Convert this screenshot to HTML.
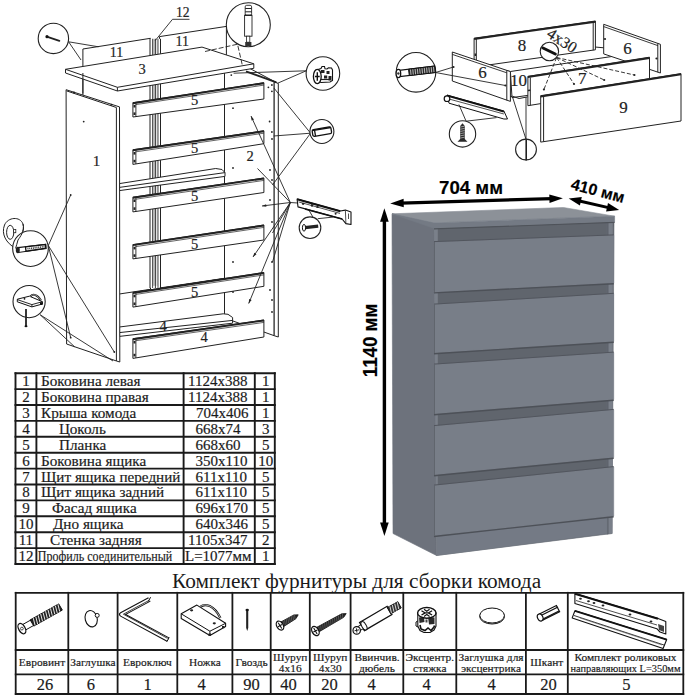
<!DOCTYPE html><html><head><meta charset="utf-8"><style>html,body{margin:0;padding:0;background:#fff;width:689px;height:700px;overflow:hidden}svg{display:block}</style></head><body><svg width="689" height="700" viewBox="0 0 689 700"><style>text{stroke:#1a1a1a;stroke-width:0.18px;paint-order:stroke}</style><rect width="689" height="700" fill="#fff"/><g><polygon points="392,213.8 434,223 436.5,555.5 393,533.5" fill="#6d727c" stroke="#6d727c" stroke-width="0.6" stroke-linejoin="round"/><polygon points="434,228 614,221.8 612,533.5 436.5,555.5" fill="#60656d" stroke="#60656d" stroke-width="0.6" stroke-linejoin="round"/><polygon points="607,222 612.5,221.8 612.2,533.5 607,533.8" fill="#7a808a" stroke="#7a808a" stroke-width="0.6" stroke-linejoin="round"/><polygon points="606.5,222 608.2,222 608.2,534 606.5,534" fill="#60656e" stroke="#60656e" stroke-width="0.6" stroke-linejoin="round"/><polygon points="434,228 437.5,228 437.5,555 436.5,555.5" fill="#7a808a" stroke="#7a808a" stroke-width="0.6" stroke-linejoin="round"/><polygon points="392,213.8 563.5,207.5 614.6,216.2 434,223" fill="#8c9198" stroke="#8c9198" stroke-width="0.6" stroke-linejoin="round"/><polygon points="392,213.8 434,223 614.6,216.2 614.6,221.8 434,228.3" fill="#747a84" stroke="#747a84" stroke-width="0.6" stroke-linejoin="round"/><line x1="434" y1="228.9" x2="614.6" y2="222.4" stroke="#4f535a" stroke-width="1.2"/><polygon points="437.5,536 607,517 607,533.6 437.5,555.3" fill="#747a85" stroke="#747a85" stroke-width="0.6" stroke-linejoin="round"/><polygon points="434,242 613.7,235.3 613.7,283 434,292.2" fill="#787e88" stroke="#787e88" stroke-width="0.6" stroke-linejoin="round"/><line x1="434" y1="292.9" x2="613.7" y2="283.7" stroke="#4d5158" stroke-width="1.4"/><line x1="434" y1="241.6" x2="613.7" y2="234.9" stroke="#52565e" stroke-width="1"/><line x1="434.4" y1="242" x2="434.4" y2="292.2" stroke="#5a5f67" stroke-width="0.9"/><polygon points="434,304.5 613.7,293.7 613.7,341.5 434,353" fill="#787e88" stroke="#787e88" stroke-width="0.6" stroke-linejoin="round"/><line x1="434" y1="353.7" x2="613.7" y2="342.2" stroke="#4d5158" stroke-width="1.4"/><line x1="434" y1="304.1" x2="613.7" y2="293.3" stroke="#52565e" stroke-width="1"/><line x1="434.4" y1="304.5" x2="434.4" y2="353" stroke="#5a5f67" stroke-width="0.9"/><polygon points="434,364.5 613.7,352.5 613.7,399.5 434,414" fill="#787e88" stroke="#787e88" stroke-width="0.6" stroke-linejoin="round"/><line x1="434" y1="414.7" x2="613.7" y2="400.2" stroke="#4d5158" stroke-width="1.4"/><line x1="434" y1="364.1" x2="613.7" y2="352.1" stroke="#52565e" stroke-width="1"/><line x1="434.4" y1="364.5" x2="434.4" y2="414" stroke="#5a5f67" stroke-width="0.9"/><polygon points="434,426 613.7,409.8 613.7,457.5 434,475" fill="#787e88" stroke="#787e88" stroke-width="0.6" stroke-linejoin="round"/><line x1="434" y1="475.7" x2="613.7" y2="458.2" stroke="#4d5158" stroke-width="1.4"/><line x1="434" y1="425.6" x2="613.7" y2="409.40000000000003" stroke="#52565e" stroke-width="1"/><line x1="434.4" y1="426" x2="434.4" y2="475" stroke="#5a5f67" stroke-width="0.9"/><polygon points="434,485.5 613.7,467 613.7,516 434,535.8" fill="#787e88" stroke="#787e88" stroke-width="0.6" stroke-linejoin="round"/><line x1="434" y1="536.5" x2="613.7" y2="516.7" stroke="#4d5158" stroke-width="1.4"/><line x1="434" y1="485.1" x2="613.7" y2="466.6" stroke="#52565e" stroke-width="1"/><line x1="434.4" y1="485.5" x2="434.4" y2="535.8" stroke="#5a5f67" stroke-width="0.9"/></g><line x1="401.0" y1="203.1" x2="552.1" y2="198.6" stroke="#000" stroke-width="3.2"/><polygon points="390.2,203.4 403.8,207.3 403.6,198.7" fill="#000"/><polygon points="562.9,198.3 549.5,203.0 549.3,194.4" fill="#000"/><line x1="578.4" y1="200.7" x2="609.5" y2="207.9" stroke="#000" stroke-width="3.0"/><polygon points="568.7,198.5 579.9,205.5 581.8,197.1" fill="#000"/><polygon points="619.2,210.1 606.1,211.5 608.0,203.1" fill="#000"/><line x1="384.4" y1="219.1" x2="384.4" y2="525.2" stroke="#000" stroke-width="3.4"/><polygon points="384.4,208.3 380.1,221.8 388.7,221.8" fill="#000"/><polygon points="384.4,536.0 380.1,522.5 388.7,522.5" fill="#000"/><text x="439" y="194.3" font-family='"Liberation Sans", sans-serif' font-weight="bold" font-size="19" fill="#000" textLength="64" lengthAdjust="spacingAndGlyphs">704 мм</text><text transform="translate(570,189) rotate(15)" font-family='"Liberation Sans", sans-serif' font-weight="bold" font-size="16" fill="#000">410 мм</text><text transform="translate(377.4,377.2) rotate(-90)" font-family='"Liberation Sans", sans-serif' font-weight="bold" font-size="20" fill="#000" textLength="73.5" lengthAdjust="spacingAndGlyphs">1140 мм</text><polygon points="82.9,49.0 150.5,38.3 150.5,289.3 82.9,299.5" stroke="#222" stroke-width="1" fill="#fff" stroke-linejoin="round"/><polygon points="159.5,36.6 226.4,26.4 226.4,278.0 159.5,288.0" stroke="#222" stroke-width="1" fill="#fff" stroke-linejoin="round"/><rect x="150" y="38.8" width="10.5" height="249" fill="#fff"/><rect x="152.6" y="38.8" width="2.8" height="247" fill="#c4c4c4"/><rect x="155.4" y="38.8" width="2.6" height="247" fill="#e2e2e2"/><line x1="150.0" y1="38.8" x2="150.0" y2="288.0" stroke="#222" stroke-width="1.0" /><line x1="152.6" y1="38.8" x2="152.6" y2="288.0" stroke="#222" stroke-width="0.8" /><line x1="155.4" y1="38.8" x2="155.4" y2="288.0" stroke="#222" stroke-width="0.9" /><line x1="158.0" y1="38.8" x2="158.0" y2="288.0" stroke="#222" stroke-width="0.8" /><line x1="160.5" y1="38.8" x2="160.5" y2="288.0" stroke="#222" stroke-width="1.0" /><polygon points="224.5,55.0 276.5,82.6 274.2,82.6 274.2,335.7 224.5,318.0" stroke="#222" stroke-width="1" fill="#fff" stroke-linejoin="round"/><polygon points="274.2,81.8 278.3,83.5 278.3,337.0 274.2,335.7" stroke="#222" stroke-width="1" fill="#fff" stroke-linejoin="round"/><line x1="246.0" y1="71.4" x2="276.4" y2="82.4" stroke="#222" stroke-width="1.8" /><polygon points="119.4,183.6 215.7,168.5 222.0,169.5 225.0,172.6 225.0,176.4 119.4,190.6" stroke="#222" stroke-width="1" fill="#fff" stroke-linejoin="round"/><line x1="119.4" y1="187.4" x2="225.0" y2="172.6" stroke="#222" stroke-width="1" /><polygon points="119.4,327.0 223.2,313.8 228.0,314.3 232.6,317.5 232.6,323.2 119.4,336.4" stroke="#222" stroke-width="1" fill="#fff" stroke-linejoin="round"/><line x1="119.4" y1="332.6" x2="232.6" y2="320.4" stroke="#222" stroke-width="1" /><polygon points="132.9,102.7 263.9,82.7 263.9,99.0 132.9,117.0" stroke="#222" stroke-width="1" fill="#fff" stroke-linejoin="round"/><line x1="132.9" y1="103.2" x2="263.9" y2="83.2" stroke="#222" stroke-width="1.9" /><line x1="135.9" y1="104.6" x2="263.9" y2="85.1" stroke="#222" stroke-width="0.7" /><line x1="135.9" y1="102.8" x2="135.9" y2="116.5" stroke="#222" stroke-width="0.9" /><rect x="133.5" y="104.9" width="2" height="2.6" fill="#222"/><rect x="133.5" y="112.4" width="2" height="2.6" fill="#222"/><polygon points="132.9,149.8 263.9,130.8 263.9,143.7 132.9,164.4" stroke="#222" stroke-width="1" fill="#fff" stroke-linejoin="round"/><line x1="132.9" y1="150.3" x2="263.9" y2="131.3" stroke="#222" stroke-width="1.9" /><line x1="135.9" y1="151.8" x2="263.9" y2="133.2" stroke="#222" stroke-width="0.7" /><line x1="135.9" y1="150.0" x2="135.9" y2="164.0" stroke="#222" stroke-width="0.9" /><rect x="133.5" y="152.0" width="2" height="2.6" fill="#222"/><rect x="133.5" y="159.8" width="2" height="2.6" fill="#222"/><polygon points="132.9,197.2 263.9,178.0 263.9,192.5 132.9,211.9" stroke="#222" stroke-width="1" fill="#fff" stroke-linejoin="round"/><line x1="132.9" y1="197.7" x2="263.9" y2="178.5" stroke="#222" stroke-width="1.9" /><line x1="135.9" y1="199.2" x2="263.9" y2="180.4" stroke="#222" stroke-width="0.7" /><line x1="135.9" y1="197.4" x2="135.9" y2="211.5" stroke="#222" stroke-width="0.9" /><rect x="133.5" y="199.4" width="2" height="2.6" fill="#222"/><rect x="133.5" y="207.3" width="2" height="2.6" fill="#222"/><polygon points="132.9,244.6 263.9,225.0 263.9,240.0 132.9,258.9" stroke="#222" stroke-width="1" fill="#fff" stroke-linejoin="round"/><line x1="132.9" y1="245.1" x2="263.9" y2="225.5" stroke="#222" stroke-width="1.9" /><line x1="135.9" y1="246.6" x2="263.9" y2="227.4" stroke="#222" stroke-width="0.7" /><line x1="135.9" y1="244.8" x2="135.9" y2="258.5" stroke="#222" stroke-width="0.9" /><rect x="133.5" y="246.8" width="2" height="2.6" fill="#222"/><rect x="133.5" y="254.3" width="2" height="2.6" fill="#222"/><polygon points="132.9,292.5 263.9,272.5 263.9,286.3 132.9,307.1" stroke="#222" stroke-width="1" fill="#fff" stroke-linejoin="round"/><line x1="132.9" y1="293.0" x2="263.9" y2="273.0" stroke="#222" stroke-width="1.9" /><line x1="135.9" y1="294.4" x2="263.9" y2="274.9" stroke="#222" stroke-width="0.7" /><line x1="135.9" y1="292.6" x2="135.9" y2="306.6" stroke="#222" stroke-width="0.9" /><rect x="133.5" y="294.7" width="2" height="2.6" fill="#222"/><rect x="133.5" y="302.5" width="2" height="2.6" fill="#222"/><polygon points="132.9,338.7 263.9,320.0 263.9,337.0 132.9,358.4" stroke="#222" stroke-width="1" fill="#fff" stroke-linejoin="round"/><line x1="132.9" y1="339.2" x2="263.9" y2="320.5" stroke="#222" stroke-width="1.9" /><line x1="135.9" y1="340.7" x2="263.9" y2="322.4" stroke="#222" stroke-width="0.7" /><line x1="135.9" y1="338.9" x2="135.9" y2="358.0" stroke="#222" stroke-width="0.9" /><rect x="133.5" y="340.9" width="2" height="2.6" fill="#222"/><rect x="133.5" y="353.8" width="2" height="2.6" fill="#222"/><polygon points="65.5,69.3 202.0,47.1 253.8,63.8 253.8,68.3 117.4,91.0 65.5,73.0" stroke="#222" stroke-width="1" fill="#fff" stroke-linejoin="round"/><polyline points="65.5,69.3 117.4,87.3 253.8,63.8" stroke="#222" stroke-width="1" fill="none"/><line x1="117.4" y1="87.3" x2="117.4" y2="91.0" stroke="#222" stroke-width="1" /><polygon points="66.1,89.7 119.5,106.9 119.8,362.0 116.5,361.0 66.6,344.0" stroke="#222" stroke-width="1" fill="#fff" stroke-linejoin="round"/><line x1="66.6" y1="90.9" x2="116.4" y2="107.5" stroke="#222" stroke-width="1.0" /><line x1="116.4" y1="107.5" x2="116.4" y2="361.0" stroke="#222" stroke-width="1.0" /><circle cx="74" cy="92.6" r="1" fill="#222"/><circle cx="111.5" cy="104.8" r="1" fill="#222"/><line x1="82.9" y1="73.0" x2="82.9" y2="93.5" stroke="#222" stroke-width="1" /><line x1="68.6" y1="41.8" x2="98.5" y2="46.8" stroke="#222" stroke-width="0.9" /><line x1="68.6" y1="41.8" x2="81.0" y2="60.0" stroke="#222" stroke-width="0.9" /><line x1="172.5" y1="19.3" x2="189.5" y2="19.3" stroke="#222" stroke-width="0.9" /><line x1="172.5" y1="19.3" x2="155.2" y2="40.6" stroke="#222" stroke-width="0.9" /><line x1="306.2" y1="70.8" x2="233.6" y2="73.2" stroke="#222" stroke-width="0.9" /><line x1="306.2" y1="70.8" x2="277.7" y2="83.2" stroke="#222" stroke-width="0.9" /><line x1="310.6" y1="133.2" x2="273.9" y2="88.0" stroke="#222" stroke-width="0.9" /><line x1="310.6" y1="133.2" x2="273.6" y2="136.0" stroke="#222" stroke-width="0.9" /><line x1="310.6" y1="133.2" x2="272.5" y2="185.0" stroke="#222" stroke-width="0.9" /><line x1="290.3" y1="202.5" x2="251.0" y2="116.0" stroke="#222" stroke-width="0.9" /><line x1="290.3" y1="202.5" x2="257.5" y2="168.5" stroke="#222" stroke-width="0.9" /><line x1="290.3" y1="202.5" x2="253.0" y2="257.0" stroke="#222" stroke-width="0.9" /><line x1="290.3" y1="202.5" x2="248.7" y2="303.5" stroke="#222" stroke-width="0.9" /><line x1="290.3" y1="202.5" x2="272.5" y2="233.0" stroke="#222" stroke-width="0.9" /><line x1="290.3" y1="202.5" x2="272.5" y2="262.0" stroke="#222" stroke-width="0.9" /><line x1="290.3" y1="202.5" x2="297.5" y2="203.0" stroke="#222" stroke-width="0.9" /><line x1="290.3" y1="202.5" x2="262.0" y2="206.0" stroke="#222" stroke-width="0.9" /><line x1="313.0" y1="217.2" x2="307.9" y2="208.4" stroke="#222" stroke-width="0.9" /><line x1="317.7" y1="218.7" x2="332.9" y2="217.1" stroke="#222" stroke-width="0.9" /><line x1="48.3" y1="245.5" x2="70.7" y2="195.0" stroke="#222" stroke-width="0.9" /><line x1="48.3" y1="245.5" x2="70.7" y2="337.7" stroke="#222" stroke-width="0.9" /><line x1="48.3" y1="245.5" x2="114.3" y2="352.0" stroke="#222" stroke-width="0.9" /><line x1="40.2" y1="314.8" x2="74.5" y2="346.7" stroke="#222" stroke-width="0.9" /><line x1="40.2" y1="314.8" x2="113.0" y2="361.0" stroke="#222" stroke-width="0.9" /><polyline points="205,51.5 237.5,44.2 242.4,65.5" stroke="#222" stroke-width="0.9" fill="none" stroke-dasharray="5,2"/><polygon points="251.0,116.0 254.0,119.4 251.6,120.5" fill="#222"/><polygon points="253.0,257.0 254.3,252.7 256.5,254.2" fill="#222"/><polygon points="248.7,303.5 249.1,299.0 251.6,300.0" fill="#222"/><polygon points="262.0,206.0 266.1,204.2 266.4,206.8" fill="#222"/><circle cx="233" cy="108.2" r="0.9" fill="#222"/><circle cx="271.9" cy="91.3" r="0.9" fill="#222"/><circle cx="269.6" cy="121.5" r="0.9" fill="#222"/><circle cx="271.9" cy="132" r="0.9" fill="#222"/><circle cx="272" cy="139" r="0.9" fill="#222"/><circle cx="233" cy="168" r="0.9" fill="#222"/><circle cx="233" cy="230" r="0.9" fill="#222"/><circle cx="233" cy="262" r="0.9" fill="#222"/><circle cx="233" cy="292" r="0.9" fill="#222"/><circle cx="270" cy="170" r="0.9" fill="#222"/><circle cx="272" cy="180" r="0.9" fill="#222"/><circle cx="270" cy="200" r="0.9" fill="#222"/><circle cx="272" cy="222" r="0.9" fill="#222"/><circle cx="272" cy="262" r="0.9" fill="#222"/><circle cx="270" cy="290" r="0.9" fill="#222"/><circle cx="272" cy="300" r="0.9" fill="#222"/><circle cx="272" cy="312" r="0.9" fill="#222"/><circle cx="70.7" cy="195" r="0.9" fill="#222"/><circle cx="70.7" cy="337.7" r="0.9" fill="#222"/><circle cx="114.3" cy="352" r="0.9" fill="#222"/><circle cx="83.7" cy="121.6" r="0.9" fill="#222"/><circle cx="231.3" cy="75.1" r="0.9" fill="#222"/><circle cx="268.4" cy="87.3" r="0.9" fill="#222"/><circle cx="271.9" cy="85" r="0.9" fill="#222"/><circle cx="53.4" cy="38.4" r="15.2" fill="#fff" stroke="#222" stroke-width="1.1"/><line x1="47.5" y1="36.9" x2="59.4" y2="40.8" stroke="#222" stroke-width="1.8" stroke-linecap="round"/><circle cx="47" cy="36.7" r="1.6" fill="#111"/><circle cx="248.3" cy="24.7" r="22" fill="#fff" stroke="#222" stroke-width="1.1"/><rect x="244.6" y="15.2" width="7.4" height="21" fill="#fff" stroke="#222" stroke-width="0.9"/><rect x="245.2" y="5.3" width="6.4" height="10" rx="1.5" fill="#fff" stroke="#222" stroke-width="0.9"/><line x1="245.2" y1="8.5" x2="251.6" y2="8.5" stroke="#222" stroke-width="1"/><line x1="245.2" y1="11.8" x2="251.6" y2="11.8" stroke="#222" stroke-width="1"/><line x1="244.6" y1="15.3" x2="252" y2="15.3" stroke="#222" stroke-width="1.4"/><rect x="246.4" y="36.2" width="3.4" height="6" fill="#fff" stroke="#222" stroke-width="0.8"/><rect x="245.2" y="42" width="6.2" height="4" fill="#333"/><circle cx="322.9" cy="73.5" r="16.8" fill="#fff" stroke="#222" stroke-width="1.1"/><path d="M318,69.5 L321,68.5 L322,66.5 L324.5,66.5 L325,68.8 L327,69 L328.5,67.8 L331.5,68 L332.5,70 L332.5,80.5 L330,82 L321,82.5 L318,81 Z" fill="#fff" stroke="#111" stroke-width="1.1"/><rect x="321" y="70" width="3.5" height="3" fill="#222"/><rect x="326.5" y="71" width="3" height="3" fill="#222"/><rect x="324" y="75.5" width="3.2" height="3" fill="#222"/><rect x="328.5" y="76" width="3" height="4.5" fill="#222"/><path d="M320,79.5 L330,79.5" stroke="#222" stroke-width="1.2"/><ellipse cx="317.3" cy="76.5" rx="3.9" ry="7.2" fill="#fff" stroke="#111" stroke-width="1.3"/><path d="M317.3,72.3 v8.4 M314.9,76.5 h4.8" stroke="#111" stroke-width="1.4"/><circle cx="321.9" cy="131.5" r="12" fill="#fff" stroke="#222" stroke-width="1.1"/><g transform="translate(312.5,133.2) rotate(-9.5)"><rect x="0" y="-3.4" width="19" height="6.8" rx="1.5" fill="#fff" stroke="#111" stroke-width="1.3"/><line x1="2.5" y1="-3.4" x2="2.5" y2="3.4" stroke="#111" stroke-width="1.3"/><line x1="0" y1="-2.6" x2="19" y2="-2.6" stroke="#111" stroke-width="1.4"/></g><circle cx="310" cy="227.7" r="10.8" fill="#fff" stroke="#222" stroke-width="1.1"/><line x1="305" y1="227.6" x2="318.2" y2="226.1" stroke="#222" stroke-width="3.2"/><ellipse cx="304" cy="227.8" rx="1.6" ry="3.4" fill="#fff" stroke="#111" stroke-width="1"/><path d="M297.1,199 L340.3,211 L345.4,210.1 L351,212 L351,224.5 L345.9,223.6 L342.1,219 L298,206.9 Z" fill="#fff" stroke="#111" stroke-width="1.1" stroke-linejoin="round"/><path d="M297.1,199.3 L340.3,211.3" stroke="#111" stroke-width="2.2"/><path d="M298.5,201.9 L340,213.4" stroke="#222" stroke-width="0.8"/><path d="M305,209 L342.1,219" stroke="#111" stroke-width="1.6"/><path d="M345.4,210.5 L345.9,223.6 M348.5,213.5 L348.5,219" stroke="#222" stroke-width="0.8"/><ellipse cx="303.1" cy="203.8" rx="1.3" ry="1.1" fill="#222"/><ellipse cx="312" cy="205.4" rx="1.2" ry="1.3" fill="#222"/><ellipse cx="317.5" cy="207" rx="1.3" ry="1.1" fill="#222"/><circle cx="335.6" cy="213.8" r="1" fill="#222"/><path d="M15.6,248.4 C6,243 1,234 4.5,225 C8,217 20,216 23,224 C25,231 20,237 18,240 C17,243 16.5,246 15.6,248.4 Z" fill="#fff" stroke="#222" stroke-width="1"/><circle cx="30.5" cy="248.6" r="17.85" fill="#fff" stroke="#222" stroke-width="1.1"/><path d="M23,224 C25,231 20,237 18,240 C17,243 16.5,246 15.6,248.4" fill="none" stroke="#222" stroke-width="1"/><path d="M18,247.6 L45.7,244.3 L46,248.6 L18.5,252.5 Z" fill="#fff" stroke="#111" stroke-width="1.1"/><path d="M25.5,246.8 L45.5,244.5 L45.8,248.2 L26,251.2 Z" fill="#fff" stroke="#111" stroke-width="1.3"/><path d="M27.5,248.8 L44.5,246.6" stroke="#333" stroke-width="1.6" stroke-dasharray="1,0.8"/><ellipse cx="17.8" cy="250" rx="2" ry="3.3" fill="#222"/><ellipse cx="10.2" cy="232.3" rx="3.6" ry="7" fill="#fff" stroke="#222" stroke-width="1"/><rect x="13.6" y="229.5" width="2.2" height="3.2" fill="#fff" stroke="#222" stroke-width="0.8"/><circle cx="29.1" cy="301.6" r="16.1" fill="#fff" stroke="#222" stroke-width="1.1"/><path d="M17.3,299.2 L29.4,296.2 L42.4,301.7 L42.4,304 L31.9,306.9 L17.3,301.8 Z" fill="#fff" stroke="#111" stroke-width="1"/><path d="M17.3,299.6 L31.9,304.6 L42.4,301.7 M31.9,304.6 L31.9,306.9" stroke="#111" stroke-width="0.9" fill="none"/><path d="M30.5,296.4 C33,293.5 37.5,294.5 41,300.5" fill="none" stroke="#111" stroke-width="2"/><path d="M30.5,296.4 C33,293.5 37.5,294.5 41,300.5" fill="none" stroke="#fff" stroke-width="0.6"/><rect x="40" y="302.2" width="2.6" height="2.8" fill="#111"/><circle cx="24.5" cy="298.8" r="0.9" fill="#111"/><line x1="26" y1="309" x2="26" y2="326" stroke="#222" stroke-width="1.8"/><ellipse cx="26" cy="326.3" rx="1.5" ry="1" fill="#111"/><g font-family='"Liberation Serif", serif' fill="#222"><text x="116.6" y="57.2" text-anchor="middle" font-size="14">11</text><text x="182.3" y="46.2" text-anchor="middle" font-size="14">11</text><text x="142.1" y="74.1" text-anchor="middle" font-size="14.5">3</text><text x="96.4" y="166.1" text-anchor="middle" font-size="15">1</text><text x="250" y="160.9" text-anchor="middle" font-size="14.5">2</text><text x="194.5" y="105.3" text-anchor="middle" font-size="14.5">5</text><text x="194.5" y="152.9" text-anchor="middle" font-size="14.5">5</text><text x="194.5" y="200.5" text-anchor="middle" font-size="14.5">5</text><text x="194.5" y="249.1" text-anchor="middle" font-size="14.5">5</text><text x="194.5" y="296.7" text-anchor="middle" font-size="14.5">5</text><text x="163" y="331.1" text-anchor="middle" font-size="14.5">4</text><text x="204" y="342.4" text-anchor="middle" font-size="14.5">4</text><text x="182.7" y="17.3" text-anchor="middle" font-size="13.6">12</text></g><polygon points="476.3,64.0 595.0,47.0 645.0,51.5 645.0,79.0 512.0,97.6 510.4,71.5" stroke="#222" stroke-width="1" fill="#fff" stroke-linejoin="round"/><line x1="510.4" y1="71.5" x2="645.0" y2="51.6" stroke="#222" stroke-width="1" /><polygon points="474.1,38.2 595.4,21.0 595.4,49.8 474.1,67.0" stroke="#222" stroke-width="1" fill="#fff" stroke-linejoin="round"/><rect x="474.6" y="53.5" width="1.6" height="2.5" fill="#222"/><line x1="474.1" y1="38.9" x2="595.4" y2="21.7" stroke="#222" stroke-width="2.0" /><line x1="476.3" y1="38.9" x2="476.3" y2="66.5" stroke="#222" stroke-width="1.0" /><line x1="593.2" y1="21.3" x2="593.2" y2="50.2" stroke="#222" stroke-width="1.0" /><polygon points="603.7,24.3 660.4,44.3 660.4,73.0 603.7,53.9" stroke="#222" stroke-width="1" fill="#fff" stroke-linejoin="round"/><line x1="603.7" y1="26.6" x2="657.8" y2="45.6" stroke="#222" stroke-width="0.9" /><line x1="657.8" y1="43.4" x2="657.8" y2="72.2" stroke="#222" stroke-width="1.0" /><circle cx="605" cy="39" r="1.1" fill="#222"/><circle cx="656.5" cy="58.5" r="1.1" fill="#222"/><polygon points="452.3,52.0 510.4,71.6 510.4,101.4 452.3,81.0" stroke="#222" stroke-width="1" fill="#fff" stroke-linejoin="round"/><line x1="452.3" y1="54.4" x2="506.8" y2="72.8" stroke="#222" stroke-width="0.9" /><line x1="506.8" y1="70.6" x2="506.8" y2="100.3" stroke="#222" stroke-width="1.0" /><circle cx="453.5" cy="67" r="1.1" fill="#222"/><circle cx="505.4" cy="85.5" r="1.1" fill="#222"/><polyline points="510.4,96.5 512.6,96.3 519.1,98.5 527.9,96.8" stroke="#222" stroke-width="1" fill="none"/><polygon points="527.9,76.4 649.5,57.2 649.5,86.0 527.9,105.7" stroke="#222" stroke-width="1" fill="#fff" stroke-linejoin="round"/><line x1="527.9" y1="77.1" x2="649.5" y2="57.9" stroke="#222" stroke-width="2.0" /><line x1="530.3" y1="77.5" x2="530.3" y2="105.4" stroke="#222" stroke-width="1.0" /><line x1="527.9" y1="90.5" x2="530.3" y2="90.2" stroke="#222" stroke-width="1.5" /><polygon points="540.7,95.7 681.0,73.6 681.0,121.0 540.7,142.1" stroke="#222" stroke-width="1" fill="#fff" stroke-linejoin="round"/><line x1="540.7" y1="96.4" x2="681.0" y2="74.3" stroke="#222" stroke-width="2.0" /><line x1="543.6" y1="96.8" x2="543.6" y2="141.6" stroke="#222" stroke-width="1.0" /><path d="M447,95 L503.9,111 L507.5,119 L503.9,119 L449,103.2 Z" fill="#fff" stroke="#111" stroke-width="1"/><path d="M447,95.6 L503.9,111.6" stroke="#111" stroke-width="2"/><path d="M449,99 L503.9,114" stroke="#222" stroke-width="0.8"/><circle cx="447" cy="98.7" r="2.8" fill="#fff" stroke="#111" stroke-width="1.2"/><line x1="435.6" y1="72.5" x2="453.5" y2="67.0" stroke="#222" stroke-width="0.9" /><line x1="435.6" y1="72.5" x2="505.4" y2="85.5" stroke="#222" stroke-width="0.9" /><line x1="466.1" y1="121.2" x2="458.9" y2="104.5" stroke="#222" stroke-width="0.9" /><line x1="466.1" y1="121.2" x2="496.6" y2="117.6" stroke="#222" stroke-width="0.9" /><line x1="526.0" y1="139.3" x2="512.6" y2="97.3" stroke="#222" stroke-width="0.9" /><line x1="526.0" y1="139.3" x2="526.0" y2="97.0" stroke="#222" stroke-width="0.9" /><line x1="556.6" y1="57.5" x2="543.9" y2="89.5" stroke="#222" stroke-width="0.9" stroke-dasharray="4,2"/><line x1="556.6" y1="57.5" x2="574.0" y2="84.0" stroke="#222" stroke-width="0.9" stroke-dasharray="4,2"/><line x1="556.6" y1="57.5" x2="604.2" y2="80.0" stroke="#222" stroke-width="0.9" stroke-dasharray="4,2"/><line x1="556.6" y1="57.5" x2="634.4" y2="75.0" stroke="#222" stroke-width="0.9" stroke-dasharray="4,2"/><circle cx="543.9" cy="89.5" r="1.1" fill="#222"/><circle cx="574" cy="84" r="1.1" fill="#222"/><circle cx="604.2" cy="80" r="1.1" fill="#222"/><circle cx="634.4" cy="75" r="1.1" fill="#222"/><circle cx="416" cy="72.3" r="19.8" fill="#fff" stroke="#222" stroke-width="1.1"/><path d="M399,70.4 L434.6,66 L435.4,72.4 L399.8,76.6 Z" fill="#fff" stroke="#111" stroke-width="1.1"/><path d="M408.5,69.2 L434.6,66 L435.4,72.4 L409.3,75.5 Z" fill="#2a2a2a" stroke="#111" stroke-width="1"/><path d="M410.5,69.6 l0.5,5.3 M412.8,69.3 l0.5,5.3 M415.1,69.0 l0.5,5.3 M417.4,68.8 l0.5,5.3 M419.7,68.5 l0.5,5.3 M422.0,68.2 l0.5,5.3 M424.3,67.9 l0.5,5.3 M426.6,67.6 l0.5,5.3 M428.9,67.4 l0.5,5.3 M431.2,67.1 l0.5,5.3 M433.5,66.8 l0.5,5.3" stroke="#ddd" stroke-width="0.8"/><ellipse cx="398.4" cy="73.5" rx="2.3" ry="4.1" fill="#fff" stroke="#111" stroke-width="1.3"/><circle cx="398.4" cy="73.5" r="1.2" fill="#333"/><circle cx="462.5" cy="133.9" r="13.2" fill="#fff" stroke="#222" stroke-width="1.1"/><path d="M460.2,126 L462.5,123.2 L464.8,126 L464.8,139 L467.5,141.8 L457.5,141.8 L460.2,139 Z" fill="#2a2a2a"/><path d="M460.4,127.0 L464.6,126.2 M460.4,129.2 L464.6,128.4 M460.4,131.4 L464.6,130.6 M460.4,133.6 L464.6,132.8 M460.4,135.8 L464.6,135.0 M460.4,138.0 L464.6,137.2 " stroke="#ccc" stroke-width="0.7"/><circle cx="526" cy="149.5" r="10.4" fill="#fff" stroke="#222" stroke-width="1.1"/><line x1="526.2" y1="139.3" x2="526.2" y2="160.5" stroke="#222" stroke-width="1.6"/><circle cx="549.4" cy="51.5" r="9.2" fill="#fff" stroke="#222" stroke-width="1.1"/><line x1="543" y1="48" x2="555.3" y2="54" stroke="#111" stroke-width="3" stroke-linecap="round"/><g font-family='"Liberation Serif", serif' fill="#222"><text x="522" y="51.4" text-anchor="middle" font-size="17">8</text><text x="482.5" y="78.4" text-anchor="middle" font-size="17">6</text><text x="627.5" y="54.1" text-anchor="middle" font-size="17">6</text><text x="518.6" y="86.0" text-anchor="middle" font-size="17">10</text><text x="582.3" y="84.3" text-anchor="middle" font-size="17">7</text><text x="623.4" y="113.1" text-anchor="middle" font-size="17">9</text><text transform="translate(545.8,36.2) rotate(33)" font-size="16">4x30</text></g><path d="M25.0,630.3 L34.5,625.0 L31.5,619.6 L22.0,624.9 Z" fill="#fff" stroke="#111" stroke-width="1"/><path d="M33.8,626.1 L62.3,610.1 L58.7,603.9 L30.2,619.9 Z" fill="#222" stroke="#111" stroke-width="1"/><path d="M35.1,625.4 L33.3,618.2 M37.6,624.0 L35.8,616.8 M40.0,622.6 L38.2,615.4 M42.5,621.3 L40.7,614.0 M45.0,619.9 L43.1,612.6 M47.4,618.5 L45.6,611.2 M49.9,617.1 L48.0,609.8 M52.3,615.7 L50.5,608.4 M54.8,614.3 L53.0,607.1 M57.2,612.9 L55.4,605.7 M59.7,611.5 L57.9,604.3" stroke="#fff" stroke-width="0.9" fill="none"/><ellipse cx="21.9" cy="628.6" rx="3.2" ry="5.6" transform="rotate(-29.2 21.9 628.6)" fill="#fff" stroke="#111" stroke-width="1.3"/><circle cx="21.9" cy="628.6" r="1.4" fill="none" stroke="#222" stroke-width="0.8"/><ellipse cx="91.2" cy="618.7" rx="6" ry="8.3" transform="rotate(-15 91.2 618.7)" fill="#fff" stroke="#111" stroke-width="1.1"/><circle cx="97.2" cy="615.4" r="2" fill="#fff" stroke="#111" stroke-width="1"/><path d="M149.4,599.4 L121.5,614.4 L168,639.6" fill="none" stroke="#111" stroke-width="5" stroke-linejoin="round" stroke-linecap="butt"/><path d="M149.4,599.4 L121.5,614.4 L168,639.6" fill="none" stroke="#fff" stroke-width="2.8" stroke-linejoin="round"/><path d="M149.2,600.3 L123.4,614.2 L167.6,638.4" fill="none" stroke="#111" stroke-width="0.8"/><path d="M150.6,597.2 L148.2,601.6 M169.2,637.4 L166.8,641.8" stroke="#111" stroke-width="1"/><path d="M181.2,613.8 L196.9,605.1 L225.6,623.3 L225.6,626.5 L209.9,635.5 L181.2,618.5 Z" fill="#fff" stroke="#111" stroke-width="1.1" stroke-linejoin="round"/><path d="M181.2,613.8 L209.9,631.2 L225.6,623.3 M209.9,631.2 L209.9,635.5" fill="none" stroke="#111" stroke-width="1"/><path d="M200.3,606.8 C205,603 214,605 220.4,618.1" fill="none" stroke="#111" stroke-width="2.2"/><path d="M200.3,606.8 C205,603 214,605 220.4,618.1" fill="none" stroke="#fff" stroke-width="0.7"/><ellipse cx="191.6" cy="610.3" rx="1.6" ry="1.1" fill="#222"/><ellipse cx="214.3" cy="623.3" rx="1.6" ry="1.1" fill="#222"/><rect x="208.5" y="633.5" width="2.5" height="2.5" fill="#222"/><rect x="222" y="626" width="2.4" height="2.2" fill="#222"/><line x1="247.2" y1="610.5" x2="247.2" y2="628" stroke="#222" stroke-width="2.1"/><path d="M246.2,628 L247.2,631 L248.2,628 Z" fill="#222"/><ellipse cx="247.2" cy="610" rx="1.7" ry="1.2" fill="#111"/><path d="M283.1,626.9 L295.9,618.7 L298.2,614.8 L293.7,615.0 L280.3,622.3 Z" fill="#222" stroke="#111" stroke-width="0.8"/><path d="M283.8,626.2 L283.0,621.0 M285.4,625.2 L284.6,620.0 M287.0,624.3 L286.3,619.1 M288.7,623.3 L287.9,618.1 M290.3,622.3 L289.5,617.1 M291.9,621.3 L291.2,616.1 M293.6,620.4 L292.8,615.2 M295.2,619.4 L294.4,614.2" stroke="#777" stroke-width="0.6" fill="none"/><ellipse cx="280" cy="625.6" rx="3.2" ry="4.9" transform="rotate(-30.7 280 625.6)" fill="#fff" stroke="#111" stroke-width="1.3"/><path d="M278.2,622.7 L281.8,628.5 M278.1,626.7 L281.9,624.5" stroke="#111" stroke-width="1.1"/><path d="M318.4,632.2 L343.7,617.3 L346.2,613.6 L341.7,613.8 L315.9,627.8 Z" fill="#222" stroke="#111" stroke-width="0.8"/><path d="M319.2,631.4 L318.8,626.5 M321.2,630.3 L320.7,625.4 M323.2,629.2 L322.7,624.3 M325.1,628.1 L324.7,623.2 M327.1,627.0 L326.6,622.1 M329.1,625.9 L328.6,621.0 M331.0,624.8 L330.6,619.8 M333.0,623.6 L332.5,618.7 M335.0,622.5 L334.5,617.6 M336.9,621.4 L336.5,616.5 M338.9,620.3 L338.4,615.4 M340.9,619.2 L340.4,614.3 M342.8,618.1 L342.4,613.2" stroke="#777" stroke-width="0.6" fill="none"/><ellipse cx="315.4" cy="631" rx="3.3" ry="5.0" transform="rotate(-29.5 315.4 631)" fill="#fff" stroke="#111" stroke-width="1.3"/><path d="M313.7,628.0 L317.1,634.0 M313.4,632.1 L317.4,629.9" stroke="#111" stroke-width="1.1"/><path d="M364.4,630.6 L391.9,614.5 L387.1,606.3 L359.6,622.4 Z" fill="#fff" stroke="#111" stroke-width="1.3"/><path d="M390.7,613.8 L401.2,607.9 L397.8,601.7 L387.3,607.6 Z" fill="#333" stroke="#111" stroke-width="1"/><path d="M391.5,613.3 L389.9,606.2 M394.0,611.9 L392.3,604.8 M396.4,610.6 L394.7,603.5 M398.8,609.2 L397.2,602.1" stroke="#fff" stroke-width="0.8" fill="none"/><path d="M360.2,630.5 L364.2,628.1 L361.8,624.3 L357.8,626.7 Z" fill="#fff" stroke="#111" stroke-width="1"/><ellipse cx="364" cy="625.8" rx="2.2" ry="4.6" transform="rotate(-30 364 625.8)" fill="#fff" stroke="#111" stroke-width="1"/><circle cx="356.7" cy="630.4" r="3.7" fill="#fff" stroke="#111" stroke-width="1.2"/><path d="M354.5,630.8 L359,629.8 M356.4,628.3 L356.9,632.6" stroke="#111" stroke-width="0.9"/><path d="M417.8,613 L417.8,626 L420,630.5 L424,632.5 L430,632.5 L434,630 L436,626 L436,613 Z" fill="#fff" stroke="#111" stroke-width="1.1"/><path d="M419,617.5 L424,617 L424.5,622 L419.5,623 Z M428,617 L434.5,617.5 L434.5,624 L429,624.5 Z" fill="#2a2a2a"/><path d="M420,625 L421,629 L425,630.5 L428,628 L431,630.5 L434,627 L434.5,625.5" fill="none" stroke="#111" stroke-width="1.6"/><rect x="425.5" y="619.5" width="2" height="3" fill="#444"/><path d="M417.8,621 L416,622 L416,626 L418,627" fill="none" stroke="#111" stroke-width="1"/><ellipse cx="426.8" cy="612.9" rx="9.2" ry="5.4" fill="#fff" stroke="#111" stroke-width="1.4"/><path d="M421.5,610.8 L425.2,612.9 L421.5,615 M432.1,610.8 L428.4,612.9 L432.1,615 M425.2,612.9 L428.4,612.9" fill="none" stroke="#111" stroke-width="1.3"/><path d="M424,609.3 L426.8,611.3 L429.6,609.3 M424,616.5 L426.8,614.5 L429.6,616.5" fill="none" stroke="#111" stroke-width="1.1"/><ellipse cx="492.1" cy="616.4" rx="12.4" ry="7.6" fill="#fff" stroke="#111" stroke-width="1"/><ellipse cx="492.1" cy="615.5" rx="12.3" ry="7.5" fill="#fff" stroke="#111" stroke-width="1"/><path d="M541.6,620.6 L559.6,611.7 L556.4,605.5 L538.4,614.4 Z" fill="#fff" stroke="#111" stroke-width="1.2"/><path d="M541.3,615.9 L558.3,607.5 L557.7,606.5 L540.7,614.9 Z" fill="#111"/><path d="M542.3,620.0 L559.3,611.5 L558.7,610.5 L541.7,619.0 Z" fill="#111"/><ellipse cx="540.2" cy="617.5" rx="2.6" ry="3.7" transform="rotate(-26 540.2 617.5)" fill="#fff" stroke="#111" stroke-width="1.2"/><path d="M574.9,593.6 L658,618.5 L665.8,621.5 L665.8,634 L660,632 L656.8,628.7 L574.9,603.5 Z" fill="#fff" stroke="#111" stroke-width="1.1" stroke-linejoin="round"/><path d="M574.9,593.8 L658,618.7" stroke="#111" stroke-width="2"/><path d="M576,600.5 L657,625" stroke="#222" stroke-width="0.8"/><path d="M574.9,610.7 L666.7,639.5 L663.1,648.5 L572.2,617.9 Z" fill="#fff" stroke="#111" stroke-width="1.1" stroke-linejoin="round"/><path d="M574.9,610.9 L666.7,639.7" stroke="#111" stroke-width="1.8"/><path d="M574,615.5 L664,645" stroke="#222" stroke-width="0.9"/><path d="M580,618 L662,645" stroke="#555" stroke-width="0.6"/><ellipse cx="580.5" cy="598.7" rx="1.4" ry="1" fill="#222"/><ellipse cx="588.5" cy="601.3" rx="1.4" ry="1" fill="#222"/><ellipse cx="594" cy="603" rx="1.4" ry="1" fill="#222"/><ellipse cx="603" cy="605.6" rx="1.4" ry="1" fill="#222"/><ellipse cx="630" cy="614.4" rx="1.4" ry="1" fill="#222"/><ellipse cx="651" cy="621.5" rx="1.4" ry="1" fill="#222"/><path d="M658,624 L664,626 L664,632 L659,630 Z" fill="#444"/><g stroke="#1a1a1a" stroke-width="1.9" stroke-linecap="square"><line x1="15.5" y1="373.20" x2="274.8" y2="373.20"/><line x1="15.5" y1="389.10" x2="274.8" y2="389.10"/><line x1="15.5" y1="405.00" x2="274.8" y2="405.00"/><line x1="15.5" y1="420.90" x2="274.8" y2="420.90"/><line x1="15.5" y1="436.80" x2="274.8" y2="436.80"/><line x1="15.5" y1="452.70" x2="274.8" y2="452.70"/><line x1="15.5" y1="468.60" x2="274.8" y2="468.60"/><line x1="15.5" y1="484.50" x2="274.8" y2="484.50"/><line x1="15.5" y1="500.40" x2="274.8" y2="500.40"/><line x1="15.5" y1="516.30" x2="274.8" y2="516.30"/><line x1="15.5" y1="532.20" x2="274.8" y2="532.20"/><line x1="15.5" y1="548.10" x2="274.8" y2="548.10"/><line x1="15.5" y1="564.00" x2="274.8" y2="564.00"/><line x1="15.5" y1="373.2" x2="15.5" y2="564.00"/><line x1="36.4" y1="373.2" x2="36.4" y2="564.00"/><line x1="183.6" y1="373.2" x2="183.6" y2="564.00"/><line x1="254.8" y1="373.2" x2="254.8" y2="564.00"/><line x1="274.8" y1="373.2" x2="274.8" y2="564.00"/></g><g font-family='"Liberation Serif", serif' font-size="15" fill="#1a1a1a"><text x="25.9" y="386.10" text-anchor="middle">1</text><text x="41" y="386.10" font-size="15.2">Боковина левая</text><text x="188" y="386.10">1124x388</text><text x="265.8" y="386.10" text-anchor="middle">1</text><text x="25.9" y="402.00" text-anchor="middle">2</text><text x="41" y="402.00" font-size="15.2">Боковина правая</text><text x="188" y="402.00">1124x388</text><text x="265.8" y="402.00" text-anchor="middle">1</text><text x="25.9" y="417.90" text-anchor="middle">3</text><text x="41" y="417.90" font-size="15.2">Крыша комода</text><text x="196" y="417.90">704x406</text><text x="265.8" y="417.90" text-anchor="middle">1</text><text x="25.9" y="433.80" text-anchor="middle">4</text><text x="59" y="433.80" font-size="15.2">Цоколь</text><text x="195.5" y="433.80">668x74</text><text x="265.8" y="433.80" text-anchor="middle">3</text><text x="25.9" y="449.70" text-anchor="middle">5</text><text x="59" y="449.70" font-size="15.2">Планка</text><text x="195.5" y="449.70">668x60</text><text x="265.8" y="449.70" text-anchor="middle">5</text><text x="25.9" y="465.60" text-anchor="middle">6</text><text x="41" y="465.60" font-size="15.2">Боковина ящика</text><text x="195.5" y="465.60">350x110</text><text x="265.8" y="465.60" text-anchor="middle">10</text><text x="25.9" y="481.50" text-anchor="middle">7</text><text x="41" y="481.50" font-size="15.2">Щит ящика передний</text><text x="195.5" y="481.50">611x110</text><text x="265.8" y="481.50" text-anchor="middle">5</text><text x="25.9" y="497.40" text-anchor="middle">8</text><text x="41" y="497.40" font-size="15.2">Щит ящика задний</text><text x="195.5" y="497.40">611x110</text><text x="265.8" y="497.40" text-anchor="middle">5</text><text x="25.9" y="513.30" text-anchor="middle">9</text><text x="52" y="513.30" font-size="15.2">Фасад ящика</text><text x="195.5" y="513.30">696x170</text><text x="265.8" y="513.30" text-anchor="middle">5</text><text x="25.9" y="529.20" text-anchor="middle">10</text><text x="53" y="529.20" font-size="15.2">Дно ящика</text><text x="195.5" y="529.20">640x346</text><text x="265.8" y="529.20" text-anchor="middle">5</text><text x="25.9" y="545.10" text-anchor="middle">11</text><text x="50" y="545.10" font-size="15.2">Стенка задняя</text><text x="188" y="545.10">1105x347</text><text x="265.8" y="545.10" text-anchor="middle">2</text><text x="25.9" y="561.00" text-anchor="middle">12</text><text x="37.8" y="561.00" textLength="134.5" lengthAdjust="spacingAndGlyphs" font-size="14.8">Профиль соединительный</text><text x="185" y="561.00">L=1077мм</text><text x="265.8" y="561.00" text-anchor="middle">1</text></g><g stroke="#1a1a1a" stroke-width="1.8" stroke-linecap="square"><line x1="15.7" y1="592.8" x2="683.3" y2="592.8"/><line x1="15.7" y1="650.0" x2="683.3" y2="650.0"/><line x1="15.7" y1="674.4" x2="683.3" y2="674.4"/><line x1="15.7" y1="694.0" x2="683.3" y2="694.0"/><line x1="15.7" y1="592.8" x2="15.7" y2="694.0"/><line x1="68.3" y1="592.8" x2="68.3" y2="694.0"/><line x1="117.6" y1="592.8" x2="117.6" y2="694.0"/><line x1="177.3" y1="592.8" x2="177.3" y2="694.0"/><line x1="232.4" y1="592.8" x2="232.4" y2="694.0"/><line x1="270.7" y1="592.8" x2="270.7" y2="694.0"/><line x1="309.8" y1="592.8" x2="309.8" y2="694.0"/><line x1="350.6" y1="592.8" x2="350.6" y2="694.0"/><line x1="403.3" y1="592.8" x2="403.3" y2="694.0"/><line x1="456.3" y1="592.8" x2="456.3" y2="694.0"/><line x1="525.9" y1="592.8" x2="525.9" y2="694.0"/><line x1="567.8" y1="592.8" x2="567.8" y2="694.0"/><line x1="683.3" y1="592.8" x2="683.3" y2="694.0"/></g><g font-family='"Liberation Serif", serif' font-size="11.4" fill="#1a1a1a"><text x="42.0" y="666.3" text-anchor="middle">Евровинт</text><text x="92.9" y="666.3" text-anchor="middle">Заглушка</text><text x="147.4" y="666.3" text-anchor="middle">Евроключ</text><text x="204.9" y="666.3" text-anchor="middle">Ножка</text><text x="251.6" y="666.3" text-anchor="middle">Гвоздь</text><text x="290.2" y="660.8" text-anchor="middle">Шуруп</text><text x="290.2" y="672.4" text-anchor="middle">4x16</text><text x="330.2" y="660.8" text-anchor="middle">Шуруп</text><text x="330.2" y="672.4" text-anchor="middle">4x30</text><text x="377.0" y="660.8" text-anchor="middle">Ввинчив.</text><text x="377.0" y="672.4" text-anchor="middle">дюбель</text><text x="429.8" y="660.8" text-anchor="middle">Эксцентр.</text><text x="429.8" y="672.4" text-anchor="middle">стяжка</text><text x="491.1" y="660.8" text-anchor="middle">Заглушка для</text><text x="491.1" y="672.4" text-anchor="middle">эксцентрика</text><text x="546.8" y="666.3" text-anchor="middle">Шкант</text><text x="625.5" y="660.8" text-anchor="middle">Комплект роликовых</text><text x="625.5" y="672.4" text-anchor="middle" textLength="110" lengthAdjust="spacingAndGlyphs">направляющих L=350мм</text></g><g font-family='"Liberation Serif", serif' font-size="16.5" fill="#1a1a1a"><text x="45.1" y="690" text-anchor="middle">26</text><text x="90.8" y="690" text-anchor="middle">6</text><text x="147.5" y="690" text-anchor="middle">1</text><text x="201.5" y="690" text-anchor="middle">4</text><text x="251.5" y="690" text-anchor="middle">90</text><text x="288.6" y="690" text-anchor="middle">40</text><text x="329.4" y="690" text-anchor="middle">20</text><text x="371.7" y="690" text-anchor="middle">4</text><text x="426.6" y="690" text-anchor="middle">4</text><text x="491.6" y="690" text-anchor="middle">4</text><text x="548.5" y="690" text-anchor="middle">20</text><text x="626.3" y="690" text-anchor="middle">5</text></g><text style="stroke-width:0" x="172" y="588.3" font-family='"Liberation Serif", serif' font-size="21.3" fill="#1a1a1a">Комплект фурнитуры для сборки комода</text></svg></body></html>
